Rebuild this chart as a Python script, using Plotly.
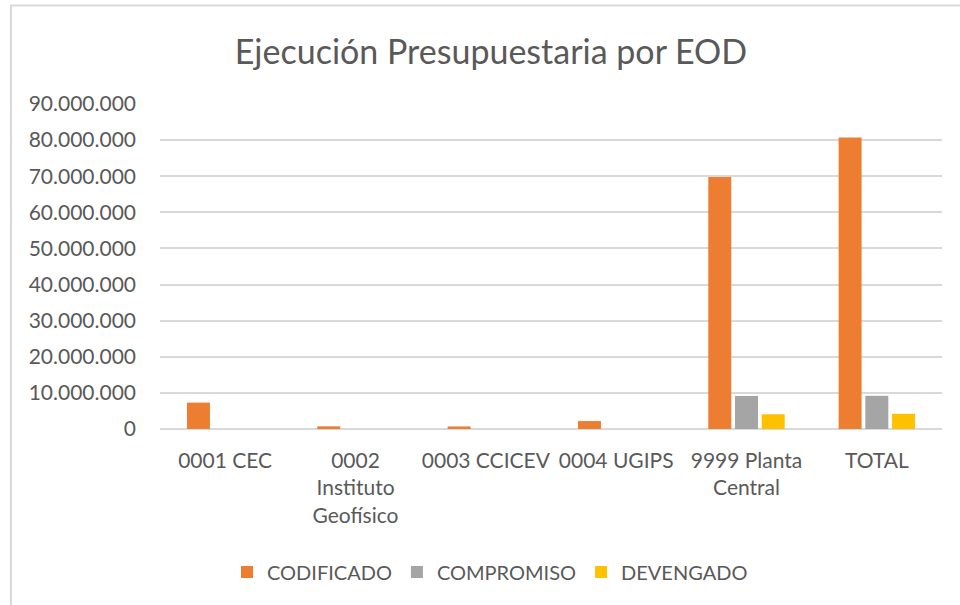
import plotly.graph_objects as go

categories = ["0001 CEC", "0002 Instituto Geofísico", "0003 CCICEV", "0004 UGIPS",
              "9999 Planta Central", "TOTAL"]
tick_labels = ["0001 CEC", "0002<br>Instituto<br>Geofísico", "0003 CCICEV", "0004 UGIPS",
               "9999 Planta<br>Central", "TOTAL"]
codificado = [7300000, 740000, 700000, 2200000, 69800000, 80740000]
compromiso = [0, 0, 0, 0, 9150000, 9190000]
devengado = [0, 0, 0, 0, 4080000, 4200000]

FONT = "Lato"
GREY_TXT = "#595959"

# plot-area geometry in page pixels
L, R, T, B = 160, 942, 104, 429
PW, PH = R - L, B - T

fig = go.Figure()
for name, vals, col in [("CODIFICADO", codificado, "#ED7D31"),
                        ("COMPROMISO", compromiso, "#A5A5A5"),
                        ("DEVENGADO", devengado, "#FFC000")]:
    fig.add_trace(go.Bar(x=categories, y=vals, name=name, marker_color=col,
                         marker_line_width=0))

fig.update_layout(
    width=960, height=605,
    paper_bgcolor="white", plot_bgcolor="white",
    margin=dict(l=L, r=960 - R, t=T, b=605 - B),
    barmode="group", bargap=0.385, bargroupgap=0.14,
    separators=",.",
    font=dict(family=FONT, color=GREY_TXT, size=21),
    title=dict(text="Ejecución Presupuestaria por EOD", x=491 / 960, xref="container",
               xanchor="center", y=1 - 52 / 605, yref="container", yanchor="middle",
               font=dict(family=FONT, size=34, color=GREY_TXT)),
    legend=dict(orientation="h", x=(490 - L) / PW, xanchor="center",
                y=(B - 572) / PH, yanchor="middle",
                font=dict(family=FONT, size=20, color=GREY_TXT),
                itemclick=False, traceorder="normal"),
    xaxis=dict(tickmode="array", tickvals=categories, ticktext=tick_labels,
               showgrid=False, showline=False, ticks="", tickangle=0,
               ticklabelstandoff=17,
               tickfont=dict(family=FONT, size=21, color=GREY_TXT)),
    yaxis=dict(range=[0, 90000000], dtick=10000000, tickformat=",d",
               showgrid=True, gridcolor="#D9D9D9", gridwidth=1.5,
               zeroline=True, zerolinecolor="#D9D9D9", zerolinewidth=1.5,
               showline=False, ticks="", ticklabelstandoff=23,
               tickfont=dict(family=FONT, size=21, color=GREY_TXT)),
    shapes=[dict(type="rect", xref="paper", yref="paper",
                 x0=(11 - L) / PW, x1=(975 - L) / PW,
                 y0=(B - 620) / PH, y1=(B - 5.5) / PH,
                 line=dict(color="#D9D9D9", width=2), fillcolor="rgba(0,0,0,0)",
                 layer="below")],
)

fig.write_html("out.html", config={"displayModeBar": False},
               post_script="document.body.style.margin='0';")
